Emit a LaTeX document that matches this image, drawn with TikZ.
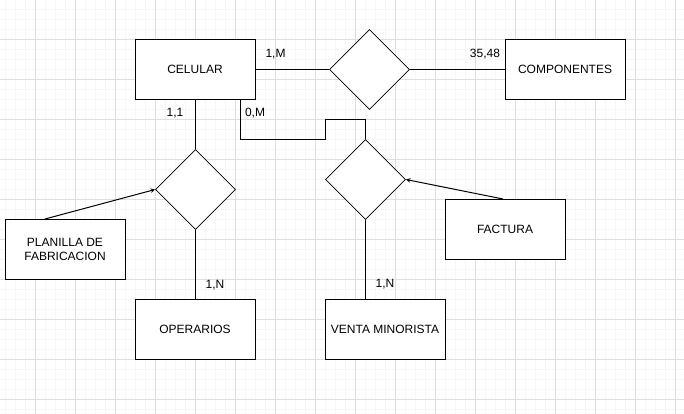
\documentclass[tikz,border=0pt]{standalone}
\usepackage{fontspec}
\setmainfont{Liberation Sans}
\usetikzlibrary{shapes.geometric}
\definecolor{minorgrid}{HTML}{F6F6F6}
\definecolor{majorgrid}{HTML}{DEDEDE}
\tikzset{
    entity/.style={draw, fill=white, line width=1pt, minimum width=120pt, minimum height=60pt, align=center, inner sep=0pt},
    relation/.style={draw, fill=white, diamond, line width=0.8pt, minimum width=80pt, minimum height=80pt, inner sep=0pt},
    card/.style={anchor=base, inner sep=0pt},
}
\begin{document}
\begin{tikzpicture}[>=stealth, x=1pt, y=-1pt, line width=1pt, font=\fontsize{12}{14}\selectfont]
    \useasboundingbox[fill=white] (0,0) rectangle (684,414);
    % the background grid
    \foreach \x in {5,15,...,684}
        \draw[minorgrid] (\x,0) -- (\x,414);
    \foreach \y in {9.5,19.5,...,414}
        \draw[minorgrid] (0,\y) -- (684,\y);
    \foreach \x in {35,75,...,684}
        \draw[majorgrid] (\x,0) -- (\x,414);
    \foreach \y in {39.5,79.5,...,414}
        \draw[majorgrid] (0,\y) -- (684,\y);

    % the entities
    \node[entity] (celular) at (195,69.5) {CELULAR};
    \node[entity] (componentes) at (565,69.5) {COMPONENTES};
    \node[entity] (planilla) at (65,249.5) {PLANILLA DE\\FABRICACION};
    \node[entity] (operarios) at (195,329.5) {OPERARIOS};
    \node[entity] (venta) at (385,329.5) {VENTA MINORISTA};
    \node[entity] (factura) at (505,229.5) {FACTURA};

    % the relations
    \node[relation] (relcomp) at (369.5,69.5) {};
    \node[relation] (relfab) at (195.5,189.5) {};
    \node[relation] (relventa) at (365.5,179.5) {};

    % CELULAR - COMPONENTES
    \draw (celular) -- (relcomp);
    \draw (relcomp) -- (componentes);
    \node[card] at (275.5,57.5) {1,M};
    \node[card] at (485,57.5) {35,48};

    % CELULAR - OPERARIOS
    \draw (celular.south -| relfab) -- (relfab);
    \draw (relfab) -- (relfab |- operarios.north);
    \node[card] at (175,117) {1,1};
    \node[card] at (215,288) {1,N};
    \draw[->] ([xshift=-20pt]planilla.north) -- (relfab.west);

    % CELULAR - VENTA MINORISTA
    \draw (celular.south east) ++(-15,0) -- ++(0,40) -- ++(85,0) -- ++(0,-20) -| (relventa.north);
    \draw (relventa) -- (relventa |- venta.north);
    \node[card] at (255,117) {0,M};
    \node[card] at (385,287) {1,N};
    \draw[->] ([xshift=-2pt]factura.north) -- (relventa.east);
\end{tikzpicture}
\end{document}
